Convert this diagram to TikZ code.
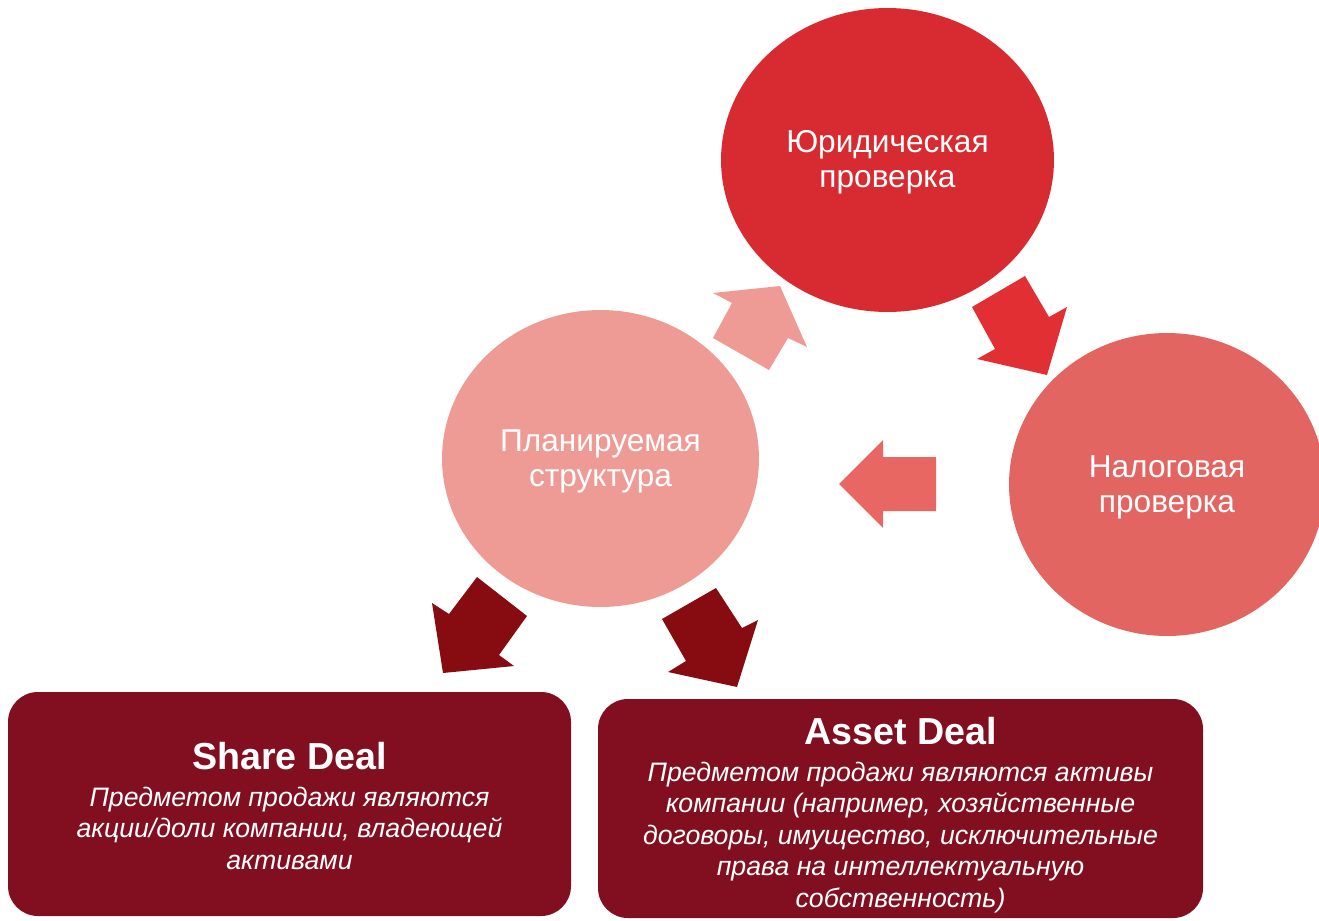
\documentclass[tikz,border=0pt]{standalone}
\usepackage{fontspec}
\setmainfont{Liberation Sans}
\usetikzlibrary{positioning}
\usetikzlibrary{shapes.geometric}
\definecolor{legalred}{HTML}{D72B31}
\definecolor{taxred}{HTML}{E26562}
\definecolor{planpink}{HTML}{EE9B95}
\definecolor{arrowred}{HTML}{E12F34}
\definecolor{arrowsalmon}{HTML}{E86763}
\definecolor{darkarrow}{HTML}{870C11}
\definecolor{dealred}{HTML}{820F20}
\tikzset{
  bubble/.style={ellipse, inner sep=0pt},
  bubbletext/.style={text=white, align=center, inner sep=0pt, yshift=-1.5pt,
    font=\fontsize{18}{20}\selectfont},
  dealbox/.style={fill=dealred, rounded corners=0.6cm},
  dealtext/.style={text=white, align=center, inner sep=0pt,
    font=\fontsize{15.2}{18}\selectfont\itshape},
}
\newcommand{\dealtitle}[1]{{\fontsize{21.4}{23}\selectfont\bfseries\upshape #1}\\[3pt]}

\begin{document}
\begin{tikzpicture}[x=0.02cm, y=-0.02cm]
\useasboundingbox (0,0) rectangle (1319,920);
\clip (0,0) rectangle (1319,920);
% circles
\node [bubble, fill=legalred, minimum width=6.66cm, minimum height=6.08cm] (legal) at (887.5,160) {};
\node [bubbletext] (legaltext) at (legal) {Юридическая\\проверка};
\node [bubble, fill=taxred, minimum width=6.32cm, minimum height=6.06cm] (tax) at (1167,484.5) {};
\node [bubbletext] (taxtext) at (tax) {Налоговая\\проверка};
\node [bubble, fill=planpink, minimum width=6.34cm, minimum height=5.94cm] (plan) at (600.5,458.5) {};
\node [bubbletext] (plantext) at (plan) {Планируемая\\структура};
% block arrows
\fill [planpink] (713,338) -- (732,303) -- (713,293) -- (780,286) -- (807,347) -- (788,338) -- (769,370) -- cycle;
\fill [arrowred] (972,307) -- (1025,276) -- (1049,317) -- (1067,307) -- (1047,375) -- (977,359) -- (995,349) -- cycle;
\fill [arrowsalmon] (936,457) -- (883,457) -- (883,440) -- (839,484) -- (883,528) -- (883,511) -- (936,511) -- cycle;
\fill [darkarrow] (477,577) -- (527,616) -- (499,655) -- (514,666) -- (443,673) -- (432,603) -- (449,614) -- cycle;
\fill [darkarrow] (662,619) -- (716,588) -- (742,628) -- (758,620) -- (737,687) -- (668,672) -- (686,661) -- cycle;
% deals
\fill [dealbox] (8,692) rectangle (571,916);
\node [dealtext] (share) at (289.5,806) {\dealtitle{Share Deal}Предметом продажи являются\\акции/доли компании, владеющей\\активами};
\fill [dealbox] (598,699) rectangle (1203,918);
\node [dealtext] (asset) at (900.5,815) {\dealtitle{Asset Deal}Предметом продажи являются активы\\компании (например, хозяйственные\\договоры, имущество, исключительные\\права на интеллектуальную\\собственность)};
\end{tikzpicture}
\end{document}
